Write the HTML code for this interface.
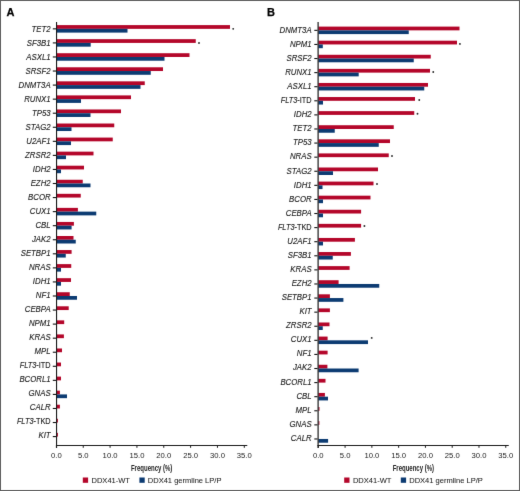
<!DOCTYPE html>
<html><head><meta charset="utf-8"><style>
html,body{margin:0;padding:0;background:#fff;}
body{width:520px;height:491px;overflow:hidden;position:relative;}
svg{position:absolute;left:0;top:0;will-change:transform;}
text{font-family:"Liberation Sans",sans-serif;}
.gl{font-size:8.3px;fill:#1c1c1c;stroke:#1c1c1c;stroke-width:0.12px;}
.tl{font-size:8.1px;fill:#1c1c1c;}
.xt{font-size:8.6px;font-weight:bold;fill:#222;}
.lg{font-size:8.1px;fill:#1c1c1c;stroke:#262626;stroke-width:0.06px;}
.pl{font-size:11px;font-weight:bold;fill:#000;stroke:#000;stroke-width:0.25px;}
</style></head><body>
<svg width="520" height="491" viewBox="0 0 520 491">
<defs><filter id="bl" x="0" y="0" width="520" height="491" filterUnits="userSpaceOnUse" color-interpolation-filters="sRGB"><feConvolveMatrix order="3" kernelMatrix="0.00524 0.06192 0.00524 0.06192 0.73137 0.06192 0.00524 0.06192 0.00524" edgeMode="duplicate" preserveAlpha="true"/></filter></defs>
<g filter="url(#bl)">
<rect x="0" y="0" width="520" height="491" fill="#fff"/>
<rect x="0.5" y="0.5" width="519" height="490" fill="none" stroke="#5e5e5e" stroke-width="1"/>
<rect x="56.50" y="25.10" width="173.50" height="3.75" fill="#b4062a"/>
<rect x="56.50" y="28.85" width="71.00" height="3.75" fill="#0c3b72"/>
<rect x="56.50" y="39.16" width="139.25" height="3.75" fill="#b4062a"/>
<rect x="56.50" y="42.91" width="34.20" height="3.75" fill="#0c3b72"/>
<rect x="56.50" y="53.22" width="133.00" height="3.75" fill="#b4062a"/>
<rect x="56.50" y="56.97" width="108.00" height="3.75" fill="#0c3b72"/>
<rect x="56.50" y="67.28" width="106.50" height="3.75" fill="#b4062a"/>
<rect x="56.50" y="71.03" width="94.25" height="3.75" fill="#0c3b72"/>
<rect x="56.50" y="81.34" width="88.25" height="3.75" fill="#b4062a"/>
<rect x="56.50" y="85.09" width="84.00" height="3.75" fill="#0c3b72"/>
<rect x="56.50" y="95.40" width="74.50" height="3.75" fill="#b4062a"/>
<rect x="56.50" y="99.15" width="24.50" height="3.75" fill="#0c3b72"/>
<rect x="56.50" y="109.46" width="64.50" height="3.75" fill="#b4062a"/>
<rect x="56.50" y="113.21" width="34.00" height="3.75" fill="#0c3b72"/>
<rect x="56.50" y="123.52" width="57.75" height="3.75" fill="#b4062a"/>
<rect x="56.50" y="127.27" width="15.00" height="3.75" fill="#0c3b72"/>
<rect x="56.50" y="137.58" width="56.25" height="3.75" fill="#b4062a"/>
<rect x="56.50" y="141.33" width="14.50" height="3.75" fill="#0c3b72"/>
<rect x="56.50" y="151.64" width="37.00" height="3.75" fill="#b4062a"/>
<rect x="56.50" y="155.39" width="9.50" height="3.75" fill="#0c3b72"/>
<rect x="56.50" y="165.70" width="27.50" height="3.75" fill="#b4062a"/>
<rect x="56.50" y="169.45" width="4.50" height="3.75" fill="#0c3b72"/>
<rect x="56.50" y="179.76" width="26.25" height="3.75" fill="#b4062a"/>
<rect x="56.50" y="183.51" width="34.00" height="3.75" fill="#0c3b72"/>
<rect x="56.50" y="193.82" width="24.25" height="3.75" fill="#b4062a"/>
<rect x="56.50" y="207.88" width="21.40" height="3.75" fill="#b4062a"/>
<rect x="56.50" y="211.63" width="39.75" height="3.75" fill="#0c3b72"/>
<rect x="56.50" y="221.94" width="17.40" height="3.75" fill="#b4062a"/>
<rect x="56.50" y="225.69" width="15.10" height="3.75" fill="#0c3b72"/>
<rect x="56.50" y="236.00" width="17.00" height="3.75" fill="#b4062a"/>
<rect x="56.50" y="239.75" width="19.25" height="3.75" fill="#0c3b72"/>
<rect x="56.50" y="250.06" width="15.10" height="3.75" fill="#b4062a"/>
<rect x="56.50" y="253.81" width="9.25" height="3.75" fill="#0c3b72"/>
<rect x="56.50" y="264.12" width="14.75" height="3.75" fill="#b4062a"/>
<rect x="56.50" y="267.87" width="4.50" height="3.75" fill="#0c3b72"/>
<rect x="56.50" y="278.18" width="14.50" height="3.75" fill="#b4062a"/>
<rect x="56.50" y="281.93" width="4.50" height="3.75" fill="#0c3b72"/>
<rect x="56.50" y="292.24" width="13.25" height="3.75" fill="#b4062a"/>
<rect x="56.50" y="295.99" width="20.50" height="3.75" fill="#0c3b72"/>
<rect x="56.50" y="306.30" width="12.20" height="3.75" fill="#b4062a"/>
<rect x="56.50" y="320.36" width="7.70" height="3.75" fill="#b4062a"/>
<rect x="56.50" y="334.42" width="7.40" height="3.75" fill="#b4062a"/>
<rect x="56.50" y="348.48" width="5.50" height="3.75" fill="#b4062a"/>
<rect x="56.50" y="362.54" width="4.50" height="3.75" fill="#b4062a"/>
<rect x="56.50" y="376.60" width="4.50" height="3.75" fill="#b4062a"/>
<rect x="56.50" y="390.66" width="3.40" height="3.75" fill="#b4062a"/>
<rect x="56.50" y="394.41" width="10.50" height="3.75" fill="#0c3b72"/>
<rect x="56.50" y="404.72" width="3.40" height="3.75" fill="#b4062a"/>
<rect x="56.50" y="418.78" width="1.40" height="3.75" fill="#b4062a"/>
<rect x="56.50" y="432.84" width="1.40" height="3.75" fill="#b4062a"/>
<rect x="56.00" y="22" width="1.10" height="426" fill="#1a1a1a"/>
<rect x="52.80" y="28.30" width="3.2" height="1.1" fill="#111"/>
<text x="0" y="0" text-anchor="end" class="gl" transform="translate(50.60 31.70) scale(0.940 1)"><tspan font-style="italic">TET2</tspan></text>
<rect x="52.80" y="42.36" width="3.2" height="1.1" fill="#111"/>
<text x="0" y="0" text-anchor="end" class="gl" transform="translate(50.60 45.72) scale(0.940 1)"><tspan font-style="italic">SF3B1</tspan></text>
<rect x="52.80" y="56.42" width="3.2" height="1.1" fill="#111"/>
<text x="0" y="0" text-anchor="end" class="gl" transform="translate(50.60 59.74) scale(0.940 1)"><tspan font-style="italic">ASXL1</tspan></text>
<rect x="52.80" y="70.48" width="3.2" height="1.1" fill="#111"/>
<text x="0" y="0" text-anchor="end" class="gl" transform="translate(50.60 73.76) scale(0.940 1)"><tspan font-style="italic">SRSF2</tspan></text>
<rect x="52.80" y="84.54" width="3.2" height="1.1" fill="#111"/>
<text x="0" y="0" text-anchor="end" class="gl" transform="translate(50.60 87.78) scale(0.940 1)"><tspan font-style="italic">DNMT3A</tspan></text>
<rect x="52.80" y="98.60" width="3.2" height="1.1" fill="#111"/>
<text x="0" y="0" text-anchor="end" class="gl" transform="translate(50.60 101.80) scale(0.940 1)"><tspan font-style="italic">RUNX1</tspan></text>
<rect x="52.80" y="112.66" width="3.2" height="1.1" fill="#111"/>
<text x="0" y="0" text-anchor="end" class="gl" transform="translate(50.60 115.82) scale(0.940 1)"><tspan font-style="italic">TP53</tspan></text>
<rect x="52.80" y="126.72" width="3.2" height="1.1" fill="#111"/>
<text x="0" y="0" text-anchor="end" class="gl" transform="translate(50.60 129.84) scale(0.940 1)"><tspan font-style="italic">STAG2</tspan></text>
<rect x="52.80" y="140.78" width="3.2" height="1.1" fill="#111"/>
<text x="0" y="0" text-anchor="end" class="gl" transform="translate(50.60 143.86) scale(0.940 1)"><tspan font-style="italic">U2AF1</tspan></text>
<rect x="52.80" y="154.84" width="3.2" height="1.1" fill="#111"/>
<text x="0" y="0" text-anchor="end" class="gl" transform="translate(50.60 157.88) scale(0.940 1)"><tspan font-style="italic">ZRSR2</tspan></text>
<rect x="52.80" y="168.90" width="3.2" height="1.1" fill="#111"/>
<text x="0" y="0" text-anchor="end" class="gl" transform="translate(50.60 171.90) scale(0.940 1)"><tspan font-style="italic">IDH2</tspan></text>
<rect x="52.80" y="182.96" width="3.2" height="1.1" fill="#111"/>
<text x="0" y="0" text-anchor="end" class="gl" transform="translate(50.60 185.92) scale(0.940 1)"><tspan font-style="italic">EZH2</tspan></text>
<rect x="52.80" y="197.02" width="3.2" height="1.1" fill="#111"/>
<text x="0" y="0" text-anchor="end" class="gl" transform="translate(50.60 199.94) scale(0.940 1)"><tspan font-style="italic">BCOR</tspan></text>
<rect x="52.80" y="211.08" width="3.2" height="1.1" fill="#111"/>
<text x="0" y="0" text-anchor="end" class="gl" transform="translate(50.60 213.96) scale(0.940 1)"><tspan font-style="italic">CUX1</tspan></text>
<rect x="52.80" y="225.14" width="3.2" height="1.1" fill="#111"/>
<text x="0" y="0" text-anchor="end" class="gl" transform="translate(50.60 227.98) scale(0.940 1)"><tspan font-style="italic">CBL</tspan></text>
<rect x="52.80" y="239.20" width="3.2" height="1.1" fill="#111"/>
<text x="0" y="0" text-anchor="end" class="gl" transform="translate(50.60 242.00) scale(0.940 1)"><tspan font-style="italic">JAK2</tspan></text>
<rect x="52.80" y="253.26" width="3.2" height="1.1" fill="#111"/>
<text x="0" y="0" text-anchor="end" class="gl" transform="translate(50.60 256.02) scale(0.940 1)"><tspan font-style="italic">SETBP1</tspan></text>
<rect x="52.80" y="267.32" width="3.2" height="1.1" fill="#111"/>
<text x="0" y="0" text-anchor="end" class="gl" transform="translate(50.60 270.04) scale(0.940 1)"><tspan font-style="italic">NRAS</tspan></text>
<rect x="52.80" y="281.38" width="3.2" height="1.1" fill="#111"/>
<text x="0" y="0" text-anchor="end" class="gl" transform="translate(50.60 284.06) scale(0.940 1)"><tspan font-style="italic">IDH1</tspan></text>
<rect x="52.80" y="295.44" width="3.2" height="1.1" fill="#111"/>
<text x="0" y="0" text-anchor="end" class="gl" transform="translate(50.60 298.08) scale(0.940 1)"><tspan font-style="italic">NF1</tspan></text>
<rect x="52.80" y="309.50" width="3.2" height="1.1" fill="#111"/>
<text x="0" y="0" text-anchor="end" class="gl" transform="translate(50.60 312.10) scale(0.940 1)"><tspan font-style="italic">CEBPA</tspan></text>
<rect x="52.80" y="323.56" width="3.2" height="1.1" fill="#111"/>
<text x="0" y="0" text-anchor="end" class="gl" transform="translate(50.60 326.12) scale(0.940 1)"><tspan font-style="italic">NPM1</tspan></text>
<rect x="52.80" y="337.62" width="3.2" height="1.1" fill="#111"/>
<text x="0" y="0" text-anchor="end" class="gl" transform="translate(50.60 340.14) scale(0.940 1)"><tspan font-style="italic">KRAS</tspan></text>
<rect x="52.80" y="351.68" width="3.2" height="1.1" fill="#111"/>
<text x="0" y="0" text-anchor="end" class="gl" transform="translate(50.60 354.16) scale(0.940 1)"><tspan font-style="italic">MPL</tspan></text>
<rect x="52.80" y="365.74" width="3.2" height="1.1" fill="#111"/>
<text x="0" y="0" text-anchor="end" class="gl" transform="translate(50.60 368.18) scale(0.884 1)"><tspan font-style="italic">FLT3</tspan><tspan>-</tspan><tspan>ITD</tspan></text>
<rect x="52.80" y="379.80" width="3.2" height="1.1" fill="#111"/>
<text x="0" y="0" text-anchor="end" class="gl" transform="translate(50.60 382.20) scale(0.940 1)"><tspan font-style="italic">BCORL1</tspan></text>
<rect x="52.80" y="393.86" width="3.2" height="1.1" fill="#111"/>
<text x="0" y="0" text-anchor="end" class="gl" transform="translate(50.60 396.22) scale(0.940 1)"><tspan font-style="italic">GNAS</tspan></text>
<rect x="52.80" y="407.92" width="3.2" height="1.1" fill="#111"/>
<text x="0" y="0" text-anchor="end" class="gl" transform="translate(50.60 410.24) scale(0.940 1)"><tspan font-style="italic">CALR</tspan></text>
<rect x="52.80" y="421.98" width="3.2" height="1.1" fill="#111"/>
<text x="0" y="0" text-anchor="end" class="gl" transform="translate(50.60 424.26) scale(0.884 1)"><tspan font-style="italic">FLT3</tspan><tspan>-</tspan><tspan>TKD</tspan></text>
<rect x="52.80" y="436.04" width="3.2" height="1.1" fill="#111"/>
<text x="0" y="0" text-anchor="end" class="gl" transform="translate(50.60 438.28) scale(0.940 1)"><tspan font-style="italic">KIT</tspan></text>
<rect x="56.00" y="445" width="191.28" height="1" fill="#1a1a1a"/>
<rect x="55.90" y="445" width="1" height="2.8" fill="#1a1a1a"/>
<text x="0" y="0" text-anchor="middle" class="tl" transform="translate(56.40 458) scale(0.95 1)">0.0</text>
<rect x="82.74" y="445" width="1" height="2.8" fill="#1a1a1a"/>
<text x="0" y="0" text-anchor="middle" class="tl" transform="translate(83.24 458) scale(0.95 1)">5.0</text>
<rect x="109.58" y="445" width="1" height="2.8" fill="#1a1a1a"/>
<text x="0" y="0" text-anchor="middle" class="tl" transform="translate(110.08 458) scale(0.95 1)">10.0</text>
<rect x="136.42" y="445" width="1" height="2.8" fill="#1a1a1a"/>
<text x="0" y="0" text-anchor="middle" class="tl" transform="translate(136.92 458) scale(0.95 1)">15.0</text>
<rect x="163.26" y="445" width="1" height="2.8" fill="#1a1a1a"/>
<text x="0" y="0" text-anchor="middle" class="tl" transform="translate(163.76 458) scale(0.95 1)">20.0</text>
<rect x="190.10" y="445" width="1" height="2.8" fill="#1a1a1a"/>
<text x="0" y="0" text-anchor="middle" class="tl" transform="translate(190.60 458) scale(0.95 1)">25.0</text>
<rect x="216.94" y="445" width="1" height="2.8" fill="#1a1a1a"/>
<text x="0" y="0" text-anchor="middle" class="tl" transform="translate(217.44 458) scale(0.95 1)">30.0</text>
<rect x="243.78" y="445" width="1" height="2.8" fill="#1a1a1a"/>
<text x="0" y="0" text-anchor="middle" class="tl" transform="translate(244.28 458) scale(0.95 1)">35.0</text>
<text x="0" y="0" text-anchor="middle" class="xt" transform="translate(151.64 470.6) scale(0.70 1)">Frequency (%)</text>
<rect x="82.80" y="477.5" width="5.3" height="5.3" fill="#b4062a"/>
<text x="0" y="0" class="lg" transform="translate(91.50 483) scale(0.93 1)">DDX41-WT</text>
<rect x="139.40" y="477.5" width="5.3" height="5.3" fill="#0c3b72"/>
<text x="0" y="0" class="lg" transform="translate(147.80 483) scale(0.93 1)">DDX41 germline LP/P</text>
<circle cx="233.20" cy="28.85" r="0.95" fill="#2a2a2a"/>
<circle cx="199.00" cy="43.00" r="0.95" fill="#2a2a2a"/>
<text x="6.60" y="16" class="pl">A</text>
<rect x="318.40" y="26.60" width="141.10" height="3.75" fill="#b4062a"/>
<rect x="318.40" y="30.35" width="90.35" height="3.75" fill="#0c3b72"/>
<rect x="318.40" y="40.69" width="138.60" height="3.75" fill="#b4062a"/>
<rect x="318.40" y="44.44" width="4.40" height="3.75" fill="#0c3b72"/>
<rect x="318.40" y="54.78" width="112.35" height="3.75" fill="#b4062a"/>
<rect x="318.40" y="58.53" width="95.35" height="3.75" fill="#0c3b72"/>
<rect x="318.40" y="68.87" width="111.60" height="3.75" fill="#b4062a"/>
<rect x="318.40" y="72.62" width="40.30" height="3.75" fill="#0c3b72"/>
<rect x="318.40" y="82.96" width="109.60" height="3.75" fill="#b4062a"/>
<rect x="318.40" y="86.71" width="105.85" height="3.75" fill="#0c3b72"/>
<rect x="318.40" y="97.05" width="96.60" height="3.75" fill="#b4062a"/>
<rect x="318.40" y="100.80" width="4.60" height="3.75" fill="#0c3b72"/>
<rect x="318.40" y="111.14" width="95.85" height="3.75" fill="#b4062a"/>
<rect x="318.40" y="125.23" width="75.35" height="3.75" fill="#b4062a"/>
<rect x="318.40" y="128.98" width="16.35" height="3.75" fill="#0c3b72"/>
<rect x="318.40" y="139.32" width="71.60" height="3.75" fill="#b4062a"/>
<rect x="318.40" y="143.07" width="60.35" height="3.75" fill="#0c3b72"/>
<rect x="318.40" y="153.41" width="70.35" height="3.75" fill="#b4062a"/>
<rect x="318.40" y="167.50" width="59.60" height="3.75" fill="#b4062a"/>
<rect x="318.40" y="171.25" width="14.60" height="3.75" fill="#0c3b72"/>
<rect x="318.40" y="181.59" width="55.10" height="3.75" fill="#b4062a"/>
<rect x="318.40" y="185.34" width="4.10" height="3.75" fill="#0c3b72"/>
<rect x="318.40" y="195.68" width="52.10" height="3.75" fill="#b4062a"/>
<rect x="318.40" y="199.43" width="4.60" height="3.75" fill="#0c3b72"/>
<rect x="318.40" y="209.77" width="42.70" height="3.75" fill="#b4062a"/>
<rect x="318.40" y="213.52" width="4.60" height="3.75" fill="#0c3b72"/>
<rect x="318.40" y="223.86" width="42.70" height="3.75" fill="#b4062a"/>
<rect x="318.40" y="237.95" width="36.50" height="3.75" fill="#b4062a"/>
<rect x="318.40" y="241.70" width="4.60" height="3.75" fill="#0c3b72"/>
<rect x="318.40" y="252.04" width="32.50" height="3.75" fill="#b4062a"/>
<rect x="318.40" y="255.79" width="14.35" height="3.75" fill="#0c3b72"/>
<rect x="318.40" y="266.13" width="31.20" height="3.75" fill="#b4062a"/>
<rect x="318.40" y="280.22" width="20.20" height="3.75" fill="#b4062a"/>
<rect x="318.40" y="283.97" width="60.85" height="3.75" fill="#0c3b72"/>
<rect x="318.40" y="294.31" width="11.50" height="3.75" fill="#b4062a"/>
<rect x="318.40" y="298.06" width="25.00" height="3.75" fill="#0c3b72"/>
<rect x="318.40" y="308.40" width="11.50" height="3.75" fill="#b4062a"/>
<rect x="318.40" y="322.49" width="11.10" height="3.75" fill="#b4062a"/>
<rect x="318.40" y="326.24" width="4.35" height="3.75" fill="#0c3b72"/>
<rect x="318.40" y="336.58" width="9.20" height="3.75" fill="#b4062a"/>
<rect x="318.40" y="340.33" width="49.60" height="3.75" fill="#0c3b72"/>
<rect x="318.40" y="350.67" width="9.20" height="3.75" fill="#b4062a"/>
<rect x="318.40" y="364.76" width="9.00" height="3.75" fill="#b4062a"/>
<rect x="318.40" y="368.51" width="40.20" height="3.75" fill="#0c3b72"/>
<rect x="318.40" y="378.85" width="7.10" height="3.75" fill="#b4062a"/>
<rect x="318.40" y="392.94" width="6.50" height="3.75" fill="#b4062a"/>
<rect x="318.40" y="396.69" width="9.60" height="3.75" fill="#0c3b72"/>
<rect x="318.40" y="407.03" width="1.10" height="3.75" fill="#b4062a"/>
<rect x="318.40" y="421.12" width="1.00" height="3.75" fill="#b4062a"/>
<rect x="318.40" y="438.96" width="9.70" height="3.75" fill="#0c3b72"/>
<rect x="317.50" y="22" width="1.20" height="426" fill="#1a1a1a"/>
<rect x="314.30" y="29.80" width="3.2" height="1.1" fill="#111"/>
<text x="0" y="0" text-anchor="end" class="gl" transform="translate(311.60 32.80) scale(0.940 1)"><tspan font-style="italic">DNMT3A</tspan></text>
<rect x="314.30" y="43.89" width="3.2" height="1.1" fill="#111"/>
<text x="0" y="0" text-anchor="end" class="gl" transform="translate(311.60 46.87) scale(0.940 1)"><tspan font-style="italic">NPM1</tspan></text>
<rect x="314.30" y="57.98" width="3.2" height="1.1" fill="#111"/>
<text x="0" y="0" text-anchor="end" class="gl" transform="translate(311.60 60.94) scale(0.940 1)"><tspan font-style="italic">SRSF2</tspan></text>
<rect x="314.30" y="72.07" width="3.2" height="1.1" fill="#111"/>
<text x="0" y="0" text-anchor="end" class="gl" transform="translate(311.60 75.01) scale(0.940 1)"><tspan font-style="italic">RUNX1</tspan></text>
<rect x="314.30" y="86.16" width="3.2" height="1.1" fill="#111"/>
<text x="0" y="0" text-anchor="end" class="gl" transform="translate(311.60 89.08) scale(0.940 1)"><tspan font-style="italic">ASXL1</tspan></text>
<rect x="314.30" y="100.25" width="3.2" height="1.1" fill="#111"/>
<text x="0" y="0" text-anchor="end" class="gl" transform="translate(311.60 103.15) scale(0.884 1)"><tspan font-style="italic">FLT3</tspan><tspan>-</tspan><tspan>ITD</tspan></text>
<rect x="314.30" y="114.34" width="3.2" height="1.1" fill="#111"/>
<text x="0" y="0" text-anchor="end" class="gl" transform="translate(311.60 117.22) scale(0.940 1)"><tspan font-style="italic">IDH2</tspan></text>
<rect x="314.30" y="128.43" width="3.2" height="1.1" fill="#111"/>
<text x="0" y="0" text-anchor="end" class="gl" transform="translate(311.60 131.29) scale(0.940 1)"><tspan font-style="italic">TET2</tspan></text>
<rect x="314.30" y="142.52" width="3.2" height="1.1" fill="#111"/>
<text x="0" y="0" text-anchor="end" class="gl" transform="translate(311.60 145.36) scale(0.940 1)"><tspan font-style="italic">TP53</tspan></text>
<rect x="314.30" y="156.61" width="3.2" height="1.1" fill="#111"/>
<text x="0" y="0" text-anchor="end" class="gl" transform="translate(311.60 159.43) scale(0.940 1)"><tspan font-style="italic">NRAS</tspan></text>
<rect x="314.30" y="170.70" width="3.2" height="1.1" fill="#111"/>
<text x="0" y="0" text-anchor="end" class="gl" transform="translate(311.60 173.50) scale(0.940 1)"><tspan font-style="italic">STAG2</tspan></text>
<rect x="314.30" y="184.79" width="3.2" height="1.1" fill="#111"/>
<text x="0" y="0" text-anchor="end" class="gl" transform="translate(311.60 187.57) scale(0.940 1)"><tspan font-style="italic">IDH1</tspan></text>
<rect x="314.30" y="198.88" width="3.2" height="1.1" fill="#111"/>
<text x="0" y="0" text-anchor="end" class="gl" transform="translate(311.60 201.64) scale(0.940 1)"><tspan font-style="italic">BCOR</tspan></text>
<rect x="314.30" y="212.97" width="3.2" height="1.1" fill="#111"/>
<text x="0" y="0" text-anchor="end" class="gl" transform="translate(311.60 215.71) scale(0.940 1)"><tspan font-style="italic">CEBPA</tspan></text>
<rect x="314.30" y="227.06" width="3.2" height="1.1" fill="#111"/>
<text x="0" y="0" text-anchor="end" class="gl" transform="translate(311.60 229.78) scale(0.884 1)"><tspan font-style="italic">FLT3</tspan><tspan>-</tspan><tspan>TKD</tspan></text>
<rect x="314.30" y="241.15" width="3.2" height="1.1" fill="#111"/>
<text x="0" y="0" text-anchor="end" class="gl" transform="translate(311.60 243.85) scale(0.940 1)"><tspan font-style="italic">U2AF1</tspan></text>
<rect x="314.30" y="255.24" width="3.2" height="1.1" fill="#111"/>
<text x="0" y="0" text-anchor="end" class="gl" transform="translate(311.60 257.92) scale(0.940 1)"><tspan font-style="italic">SF3B1</tspan></text>
<rect x="314.30" y="269.33" width="3.2" height="1.1" fill="#111"/>
<text x="0" y="0" text-anchor="end" class="gl" transform="translate(311.60 271.99) scale(0.940 1)"><tspan font-style="italic">KRAS</tspan></text>
<rect x="314.30" y="283.42" width="3.2" height="1.1" fill="#111"/>
<text x="0" y="0" text-anchor="end" class="gl" transform="translate(311.60 286.06) scale(0.940 1)"><tspan font-style="italic">EZH2</tspan></text>
<rect x="314.30" y="297.51" width="3.2" height="1.1" fill="#111"/>
<text x="0" y="0" text-anchor="end" class="gl" transform="translate(311.60 300.13) scale(0.940 1)"><tspan font-style="italic">SETBP1</tspan></text>
<rect x="314.30" y="311.60" width="3.2" height="1.1" fill="#111"/>
<text x="0" y="0" text-anchor="end" class="gl" transform="translate(311.60 314.20) scale(0.940 1)"><tspan font-style="italic">KIT</tspan></text>
<rect x="314.30" y="325.69" width="3.2" height="1.1" fill="#111"/>
<text x="0" y="0" text-anchor="end" class="gl" transform="translate(311.60 328.27) scale(0.940 1)"><tspan font-style="italic">ZRSR2</tspan></text>
<rect x="314.30" y="339.78" width="3.2" height="1.1" fill="#111"/>
<text x="0" y="0" text-anchor="end" class="gl" transform="translate(311.60 342.34) scale(0.940 1)"><tspan font-style="italic">CUX1</tspan></text>
<rect x="314.30" y="353.87" width="3.2" height="1.1" fill="#111"/>
<text x="0" y="0" text-anchor="end" class="gl" transform="translate(311.60 356.41) scale(0.940 1)"><tspan font-style="italic">NF1</tspan></text>
<rect x="314.30" y="367.96" width="3.2" height="1.1" fill="#111"/>
<text x="0" y="0" text-anchor="end" class="gl" transform="translate(311.60 370.48) scale(0.940 1)"><tspan font-style="italic">JAK2</tspan></text>
<rect x="314.30" y="382.05" width="3.2" height="1.1" fill="#111"/>
<text x="0" y="0" text-anchor="end" class="gl" transform="translate(311.60 384.55) scale(0.940 1)"><tspan font-style="italic">BCORL1</tspan></text>
<rect x="314.30" y="396.14" width="3.2" height="1.1" fill="#111"/>
<text x="0" y="0" text-anchor="end" class="gl" transform="translate(311.60 398.62) scale(0.940 1)"><tspan font-style="italic">CBL</tspan></text>
<rect x="314.30" y="410.23" width="3.2" height="1.1" fill="#111"/>
<text x="0" y="0" text-anchor="end" class="gl" transform="translate(311.60 412.69) scale(0.940 1)"><tspan font-style="italic">MPL</tspan></text>
<rect x="314.30" y="424.32" width="3.2" height="1.1" fill="#111"/>
<text x="0" y="0" text-anchor="end" class="gl" transform="translate(311.60 426.76) scale(0.940 1)"><tspan font-style="italic">GNAS</tspan></text>
<rect x="314.30" y="438.41" width="3.2" height="1.1" fill="#111"/>
<text x="0" y="0" text-anchor="end" class="gl" transform="translate(311.60 440.83) scale(0.940 1)"><tspan font-style="italic">CALR</tspan></text>
<rect x="317.50" y="445" width="191.26" height="1" fill="#1a1a1a"/>
<rect x="317.80" y="445" width="1" height="2.8" fill="#1a1a1a"/>
<text x="0" y="0" text-anchor="middle" class="tl" transform="translate(318.30 458) scale(0.95 1)">0.0</text>
<rect x="344.58" y="445" width="1" height="2.8" fill="#1a1a1a"/>
<text x="0" y="0" text-anchor="middle" class="tl" transform="translate(345.08 458) scale(0.95 1)">5.0</text>
<rect x="371.36" y="445" width="1" height="2.8" fill="#1a1a1a"/>
<text x="0" y="0" text-anchor="middle" class="tl" transform="translate(371.86 458) scale(0.95 1)">10.0</text>
<rect x="398.14" y="445" width="1" height="2.8" fill="#1a1a1a"/>
<text x="0" y="0" text-anchor="middle" class="tl" transform="translate(398.64 458) scale(0.95 1)">15.0</text>
<rect x="424.92" y="445" width="1" height="2.8" fill="#1a1a1a"/>
<text x="0" y="0" text-anchor="middle" class="tl" transform="translate(425.42 458) scale(0.95 1)">20.0</text>
<rect x="451.70" y="445" width="1" height="2.8" fill="#1a1a1a"/>
<text x="0" y="0" text-anchor="middle" class="tl" transform="translate(452.20 458) scale(0.95 1)">25.0</text>
<rect x="478.48" y="445" width="1" height="2.8" fill="#1a1a1a"/>
<text x="0" y="0" text-anchor="middle" class="tl" transform="translate(478.98 458) scale(0.95 1)">30.0</text>
<rect x="505.26" y="445" width="1" height="2.8" fill="#1a1a1a"/>
<text x="0" y="0" text-anchor="middle" class="tl" transform="translate(505.76 458) scale(0.95 1)">35.0</text>
<text x="0" y="0" text-anchor="middle" class="xt" transform="translate(413.33 470.6) scale(0.70 1)">Frequency (%)</text>
<rect x="344.20" y="477.5" width="5.3" height="5.3" fill="#b4062a"/>
<text x="0" y="0" class="lg" transform="translate(352.90 483) scale(0.93 1)">DDX41-WT</text>
<rect x="400.80" y="477.5" width="5.3" height="5.3" fill="#0c3b72"/>
<text x="0" y="0" class="lg" transform="translate(409.20 483) scale(0.93 1)">DDX41 germline LP/P</text>
<circle cx="459.90" cy="43.90" r="0.95" fill="#2a2a2a"/>
<circle cx="433.25" cy="72.00" r="0.95" fill="#2a2a2a"/>
<circle cx="419.25" cy="100.00" r="0.95" fill="#2a2a2a"/>
<circle cx="417.50" cy="113.75" r="0.95" fill="#2a2a2a"/>
<circle cx="392.00" cy="156.00" r="0.95" fill="#2a2a2a"/>
<circle cx="377.00" cy="184.00" r="0.95" fill="#2a2a2a"/>
<circle cx="364.40" cy="226.00" r="0.95" fill="#2a2a2a"/>
<circle cx="371.70" cy="337.90" r="0.95" fill="#2a2a2a"/>
<text x="267.00" y="16" class="pl">B</text>
</g>
</svg>
</body></html>
